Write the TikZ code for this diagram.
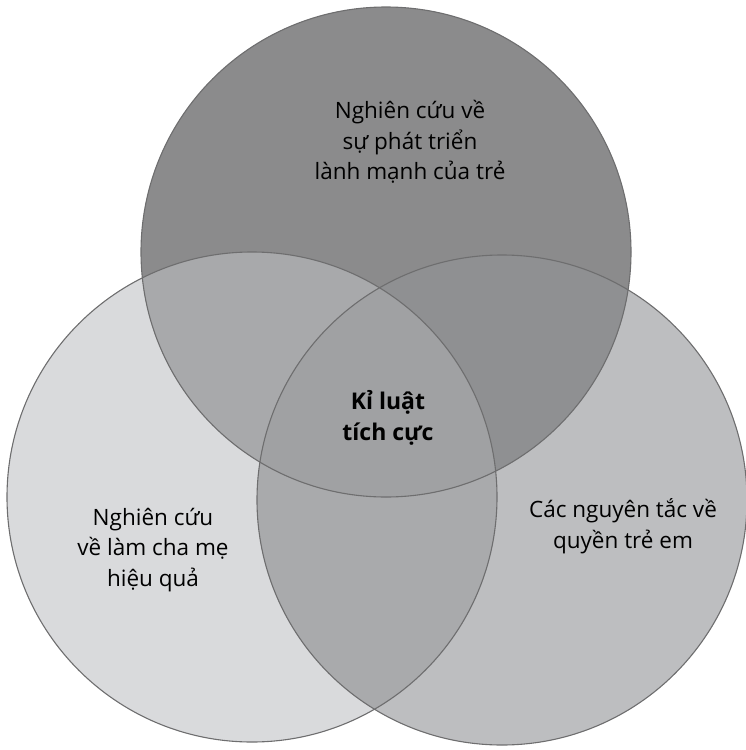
\documentclass[tikz,border=0pt]{standalone}
\usepackage{fontspec}
\setmainfont{Open Sans}
\usetikzlibrary{positioning}
\definecolor{topgray}{HTML}{8B8B8C}
\definecolor{leftgray}{HTML}{D9DADC}
\definecolor{rightgray}{HTML}{BDBEC0}
\definecolor{tlgray}{HTML}{A8A9AB}
\definecolor{trgray}{HTML}{8F9092}
\definecolor{lrgray}{HTML}{A9AAAC}
\definecolor{midgray}{HTML}{A0A1A3}
\definecolor{edgegray}{HTML}{6E6E6F}
\tikzset{
  label text/.style={align=center, font=\fontsize{22.5}{30.5}\selectfont},
  ring/.style={draw=edgegray, line width=1.1pt}
}

\begin{document}
\begin{tikzpicture}[x=1pt,y=-1pt]
\useasboundingbox (0,0) rectangle (746,750);
  \coordinate (T) at (386,252);
  \coordinate (L) at (252,497);
  \coordinate (R) at (502,500);
  % single regions
  \fill[leftgray] (L) circle[radius=245pt];
  \fill[rightgray] (R) circle[radius=245pt];
  \fill[topgray] (T) circle[radius=245pt];
  % overlaps
  \begin{scope}
    \clip (L) circle[radius=245pt];
    \fill[lrgray] (R) circle[radius=245pt];
  \end{scope}
  \begin{scope}
    \clip (T) circle[radius=245pt];
    \fill[tlgray] (L) circle[radius=245pt];
    \fill[trgray] (R) circle[radius=245pt];
    \clip (L) circle[radius=245pt];
    \fill[midgray] (R) circle[radius=245pt];
  \end{scope}
  \draw[ring] (T) circle[radius=245pt];
  \draw[ring] (L) circle[radius=245pt];
  \draw[ring] (R) circle[radius=245pt];

  \node[label text] (growth) at (410,142) {Nghiên cứu về\\sự phát triển\\lành mạnh của trẻ};
  \node[label text] (parenting) at (153,550) {Nghiên cứu\\về làm cha mẹ\\hiệu quả};
  \node[label text] (rights) at (623,526) {Các nguyên tắc về\\quyền trẻ em};
  \node[label text, font=\fontsize{23}{30.5}\selectfont\bfseries] (core) at (388,418) {Kỉ luật\\tích cực};
\end{tikzpicture}
\end{document}
